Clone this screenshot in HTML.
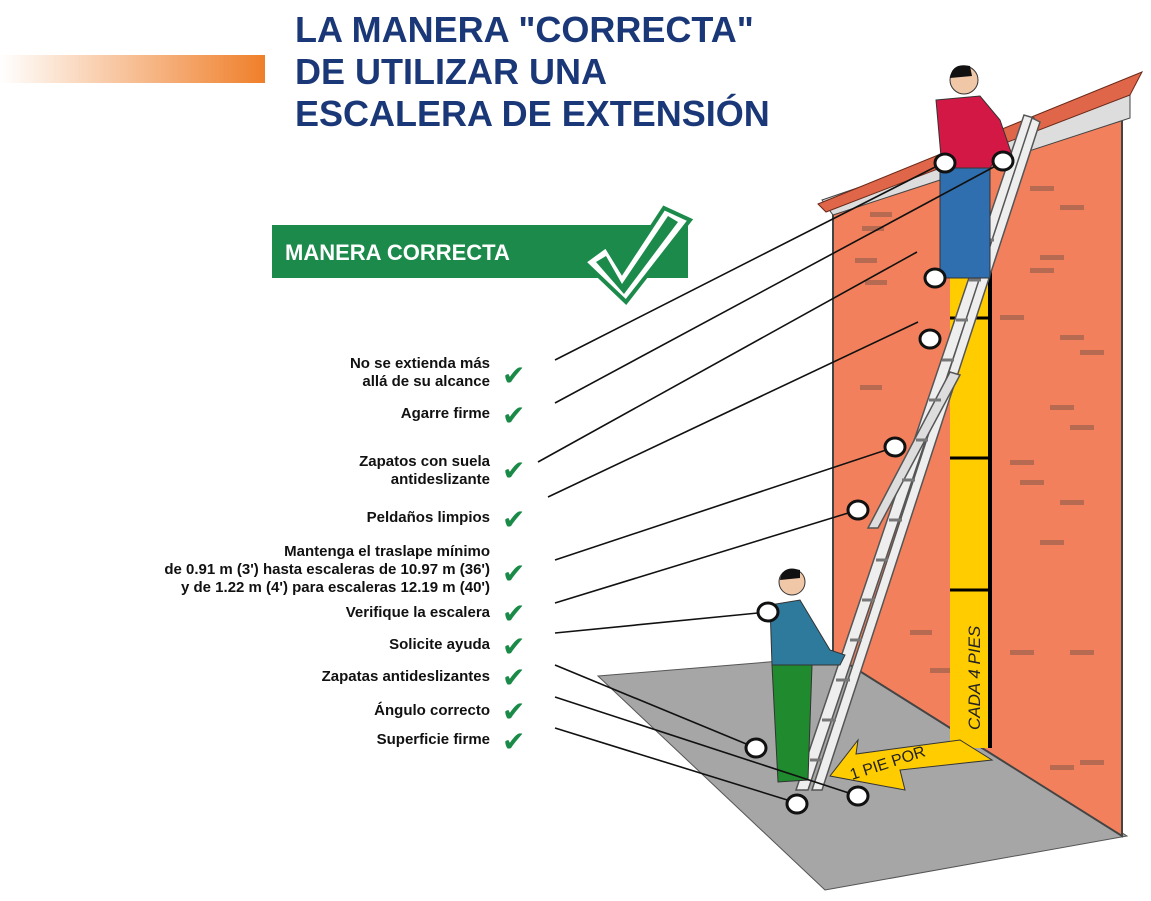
<!DOCTYPE html>
<html><head><meta charset="utf-8"><style>
html,body{margin:0;padding:0;background:#fff;width:1151px;height:901px;overflow:hidden}
svg{display:block}
.t{font-family:"Liberation Sans",sans-serif;font-weight:bold;fill:#1a3778;font-size:36px}
.l{font-family:"Liberation Sans",sans-serif;font-weight:bold;fill:#111;font-size:15px;text-anchor:end}
.ck{font-family:"DejaVu Sans",sans-serif;font-weight:bold;fill:#1a8a48;font-size:28px}
</style></head><body>
<svg width="1151" height="901" viewBox="0 0 1151 901" xmlns="http://www.w3.org/2000/svg">
<defs>
<linearGradient id="g" x1="0" x2="1"><stop offset="0" stop-color="#fff"/><stop offset="1" stop-color="#ef7f2a"/></linearGradient>
</defs>
<rect x="0" y="55" width="265" height="28" fill="url(#g)"/>
<text class="t" x="295" y="42">LA MANERA "CORRECTA"</text>
<text class="t" x="295" y="84">DE UTILIZAR UNA</text>
<text class="t" x="295" y="126">ESCALERA DE EXTENSIÓN</text>

<rect x="272" y="225" width="416" height="53" fill="#1b8a4a"/>
<text x="285" y="260" font-family="Liberation Sans,sans-serif" font-weight="bold" font-size="22" fill="#fff">MANERA CORRECTA</text>
<path d="M584,262 L606,246 L622,272 L664,208 L690,220 L626,302 Z" fill="#fff" stroke="#1b8a4a" stroke-width="4"/>
<path d="M596,262 L606,256 L622,284 L668,216 L678,222 L624,294 Z" fill="#1b8a4a"/>

<polygon points="598,676 842,656 1127,836 825,890" fill="#a6a6a6" stroke="#555" stroke-width="1"/>
<polygon points="833,210 1122,120 1122,836 842,660 833,652" fill="#f2805c" stroke="#444" stroke-width="2"/>
<g fill="#b76a52">
<rect x="870" y="212" width="22" height="5"/><rect x="862" y="226" width="22" height="5"/>
<rect x="1030" y="186" width="24" height="5"/><rect x="1060" y="205" width="24" height="5"/>
<rect x="1040" y="255" width="24" height="5"/><rect x="1030" y="268" width="24" height="5"/>
<rect x="855" y="258" width="22" height="5"/><rect x="865" y="280" width="22" height="5"/>
<rect x="1060" y="335" width="24" height="5"/><rect x="1080" y="350" width="24" height="5"/>
<rect x="1000" y="315" width="24" height="5"/><rect x="860" y="385" width="22" height="5"/>
<rect x="1050" y="405" width="24" height="5"/><rect x="1070" y="425" width="24" height="5"/>
<rect x="1010" y="460" width="24" height="5"/><rect x="1020" y="480" width="24" height="5"/>
<rect x="1060" y="500" width="24" height="5"/><rect x="1040" y="540" width="24" height="5"/>
<rect x="910" y="630" width="22" height="5"/><rect x="930" y="668" width="22" height="5"/>
<rect x="1010" y="650" width="24" height="5"/><rect x="1070" y="650" width="24" height="5"/>
<rect x="1050" y="765" width="24" height="5"/><rect x="1080" y="760" width="24" height="5"/>
<rect x="960" y="720" width="22" height="5"/>
</g>
<polygon points="822,200 1130,95 1130,118 833,215" fill="#ddd" stroke="#444"/>
<polygon points="818,204 1142,72 1130,95 826,212" fill="#e0664a" stroke="#6a2a1a"/>
<rect x="950" y="270" width="40" height="478" fill="#ffcc00"/>
<line x1="990" y1="270" x2="990" y2="748" stroke="#000" stroke-width="4"/>
<line x1="950" y1="318" x2="990" y2="318" stroke="#000" stroke-width="3"/>
<line x1="950" y1="458" x2="990" y2="458" stroke="#000" stroke-width="3"/>
<line x1="950" y1="590" x2="990" y2="590" stroke="#000" stroke-width="3"/>
<text x="0" y="0" transform="translate(980,730) rotate(-90)" font-family="Liberation Sans,sans-serif" font-style="italic" font-size="17" fill="#222">CADA 4 PIES</text>
<polygon points="830,776 858,740 856,754 960,740 992,760 900,770 905,790" fill="#ffcc00" stroke="#333"/>
<text transform="translate(852,780) rotate(-18)" font-family="Liberation Sans,sans-serif" font-size="16" fill="#222">1 PIE POR</text>
<g stroke="#555" stroke-width="1.5">
<polygon points="796,790 808,790 1034,118 1024,115" fill="#eee"/>
<polygon points="812,790 822,790 1040,122 1032,118" fill="#eee"/>
<polygon points="868,528 878,528 960,375 950,372" fill="#ddd"/>
</g>
<g stroke="#777" stroke-width="3">
<line x1="810" y1="760" x2="822" y2="760"/><line x1="822" y1="720" x2="836" y2="720"/>
<line x1="836" y1="680" x2="850" y2="680"/><line x1="850" y1="640" x2="862" y2="640"/>
<line x1="862" y1="600" x2="875" y2="600"/><line x1="876" y1="560" x2="888" y2="560"/>
<line x1="889" y1="520" x2="902" y2="520"/><line x1="902" y1="480" x2="915" y2="480"/>
<line x1="916" y1="440" x2="928" y2="440"/><line x1="929" y1="400" x2="941" y2="400"/>
<line x1="942" y1="360" x2="954" y2="360"/><line x1="956" y1="320" x2="968" y2="320"/>
<line x1="969" y1="280" x2="981" y2="280"/><line x1="982" y1="240" x2="994" y2="240"/>
</g>
<rect x="940" y="160" width="50" height="118" fill="#2f6fb0" stroke="#333"/>
<path d="M936,100 L980,96 L1000,120 L1012,155 L995,160 L990,168 L942,168 Z" fill="#d41846" stroke="#333"/>
<circle cx="964" cy="80" r="14" fill="#f0c8a8" stroke="#333"/>
<path d="M950,78 Q952,62 970,66 L972,76 Z" fill="#111"/>
<path d="M770,605 L800,600 L830,650 L845,655 L840,665 L812,665 L772,665 Z" fill="#2e7a9c" stroke="#333"/>
<path d="M772,665 L812,665 L808,780 L778,782 Z" fill="#1f8a2e" stroke="#333"/>
<circle cx="792" cy="582" r="13" fill="#f0c8a8" stroke="#333"/>
<path d="M780,580 Q782,565 800,570 L800,578 Z" fill="#111"/>
<g stroke="#111" stroke-width="1.6">
<line x1="555" y1="360" x2="945" y2="162"/>
<line x1="555" y1="403" x2="1003" y2="162"/>
<line x1="538" y1="462" x2="917" y2="252"/>
<line x1="548" y1="497" x2="918" y2="322"/>
<line x1="555" y1="560" x2="895" y2="447"/>
<line x1="555" y1="603" x2="858" y2="510"/>
<line x1="555" y1="633" x2="768" y2="612"/>
<line x1="555" y1="665" x2="756" y2="748"/>
<line x1="555" y1="697" x2="858" y2="796"/>
<line x1="555" y1="728" x2="797" y2="803"/>
</g>
<g fill="#fff" stroke="#111" stroke-width="3">
<ellipse cx="945" cy="163" rx="10" ry="9"/><ellipse cx="1003" cy="161" rx="10" ry="9"/>
<ellipse cx="935" cy="278" rx="10" ry="9"/><ellipse cx="930" cy="339" rx="10" ry="9"/>
<ellipse cx="895" cy="447" rx="10" ry="9"/><ellipse cx="858" cy="510" rx="10" ry="9"/>
<ellipse cx="768" cy="612" rx="10" ry="9"/><ellipse cx="756" cy="748" rx="10" ry="9"/>
<ellipse cx="858" cy="796" rx="10" ry="9"/><ellipse cx="797" cy="804" rx="10" ry="9"/>
</g>
<text class="l" x="490" y="368">No se extienda más</text>
<text class="l" x="490" y="386">allá de su alcance</text>
<text class="l" x="490" y="418">Agarre firme</text>
<text class="l" x="490" y="466">Zapatos con suela</text>
<text class="l" x="490" y="484">antideslizante</text>
<text class="l" x="490" y="522">Peldaños limpios</text>
<text class="l" x="490" y="556">Mantenga el traslape mínimo</text>
<text class="l" x="490" y="574">de 0.91 m (3') hasta escaleras de 10.97 m (36')</text>
<text class="l" x="490" y="592">y de 1.22 m (4') para escaleras 12.19 m (40')</text>
<text class="l" x="490" y="617">Verifique la escalera</text>
<text class="l" x="490" y="649">Solicite ayuda</text>
<text class="l" x="490" y="681">Zapatas antideslizantes</text>
<text class="l" x="490" y="715">Ángulo correcto</text>
<text class="l" x="490" y="744">Superficie firme</text>
<g class="ck">
<text x="502" y="385">✔</text><text x="502" y="425">✔</text><text x="502" y="480">✔</text>
<text x="502" y="529">✔</text><text x="502" y="583">✔</text><text x="502" y="623">✔</text>
<text x="502" y="656">✔</text><text x="502" y="687">✔</text><text x="502" y="721">✔</text>
<text x="502" y="751">✔</text>
</g>
</svg>
</body></html>
